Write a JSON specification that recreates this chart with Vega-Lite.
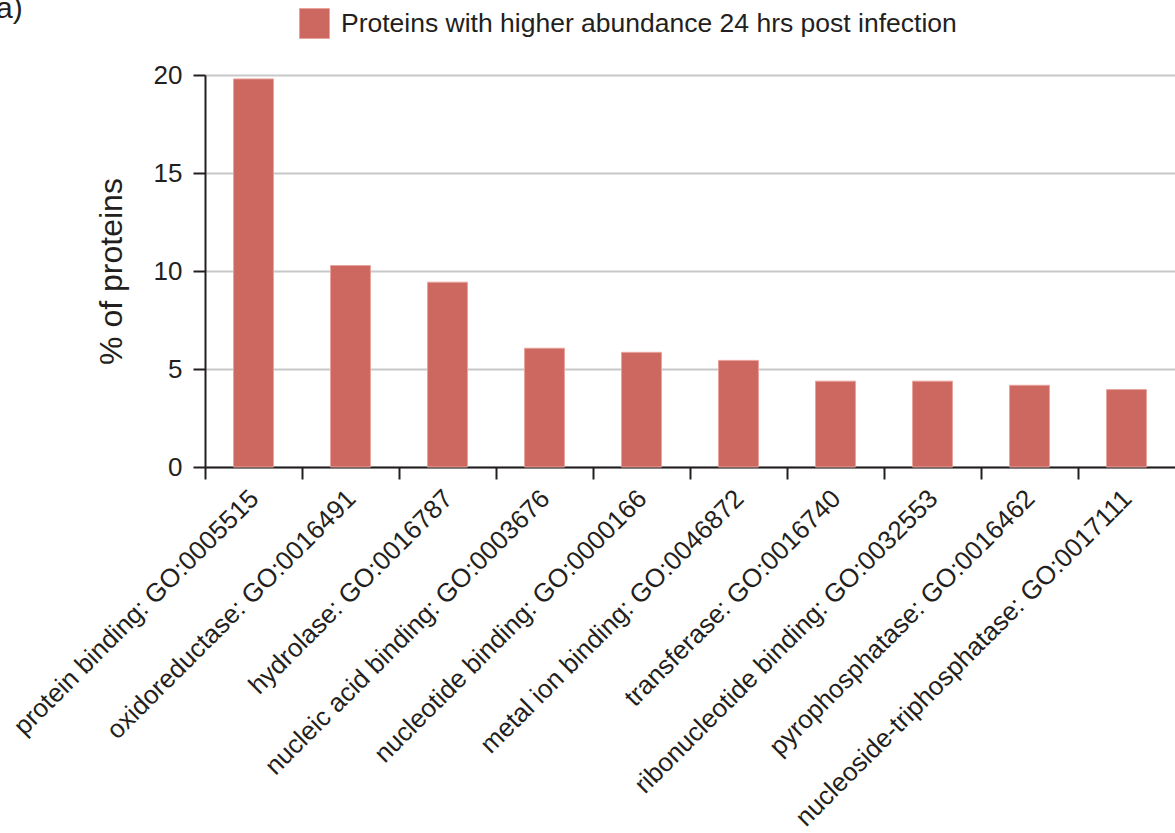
{
  "$schema": "https://vega.github.io/schema/vega-lite/v6.json",
  "autosize": "none",
  "width": 970,
  "height": 392,
  "padding": {"left": 205, "top": 75, "right": 0, "bottom": 366},
  "background": "white",
  "title": {
    "text": "a)",
    "anchor": "start",
    "frame": "group",
    "orient": "top",
    "fontSize": 30,
    "font": "Liberation Sans",
    "fontWeight": "normal",
    "color": "#231f20",
    "dx": -209,
    "dy": 16,
    "offset": 0
  },
  "data": {
    "values": [
      {"term": "protein binding: GO:0005515", "pct": 19.8, "series": "Proteins with higher abundance 24 hrs post infection"},
      {"term": "oxidoreductase: GO:0016491", "pct": 10.28, "series": "Proteins with higher abundance 24 hrs post infection"},
      {"term": "hydrolase: GO:0016787", "pct": 9.43, "series": "Proteins with higher abundance 24 hrs post infection"},
      {"term": "nucleic acid binding: GO:0003676", "pct": 6.06, "series": "Proteins with higher abundance 24 hrs post infection"},
      {"term": "nucleotide binding: GO:0000166", "pct": 5.85, "series": "Proteins with higher abundance 24 hrs post infection"},
      {"term": "metal ion binding: GO:0046872", "pct": 5.44, "series": "Proteins with higher abundance 24 hrs post infection"},
      {"term": "transferase: GO:0016740", "pct": 4.38, "series": "Proteins with higher abundance 24 hrs post infection"},
      {"term": "ribonucleotide binding: GO:0032553", "pct": 4.38, "series": "Proteins with higher abundance 24 hrs post infection"},
      {"term": "pyrophosphatase: GO:0016462", "pct": 4.17, "series": "Proteins with higher abundance 24 hrs post infection"},
      {"term": "nucleoside-triphosphatase: GO:0017111", "pct": 3.95, "series": "Proteins with higher abundance 24 hrs post infection"}
    ]
  },
  "mark": {"type": "bar", "width": {"band": 0.412}, "stroke": "#e8a39d", "strokeWidth": 1},
  "encoding": {
    "x": {
      "field": "term",
      "type": "nominal",
      "sort": null,
      "scale": {"paddingInner": 0, "paddingOuter": 0},
      "axis": {
        "title": null,
        "bandPosition": 0,
        "labelAngle": -45,
        "labelAlign": "right",
        "labelBaseline": "top",
        "labelOffset": -8,
        "labelPadding": 6,
        "labelFontSize": 26,
        "labelFont": "Liberation Sans",
        "labelColor": "#231f20",
        "labelLimit": 0,
        "tickSize": 12,
        "tickWidth": 2,
        "tickColor": "#231f20",
        "domainColor": "#231f20",
        "domainWidth": 2,
        "grid": false
      }
    },
    "y": {
      "field": "pct",
      "type": "quantitative",
      "scale": {"domain": [0, 20], "nice": false},
      "axis": {
        "title": "% of proteins",
        "titleFontSize": 32,
        "titleFont": "Liberation Sans",
        "titleFontWeight": "normal",
        "titleColor": "#231f20",
        "titlePadding": 25,
        "values": [0, 5, 10, 15, 20],
        "labelFontSize": 26,
        "labelFont": "Liberation Sans",
        "labelColor": "#231f20",
        "labelPadding": 11,
        "tickSize": 12,
        "tickWidth": 2,
        "tickColor": "#231f20",
        "domainColor": "#231f20",
        "domainWidth": 2,
        "grid": true,
        "gridColor": "#c8c8c8",
        "gridWidth": 2
      }
    },
    "color": {
      "field": "series",
      "type": "nominal",
      "scale": {"range": ["#cd6861"]},
      "legend": {
        "title": null,
        "orient": "none",
        "legendX": 94,
        "legendY": -67,
        "symbolType": "square",
        "symbolSize": 900,
        "symbolStrokeColor": "#e8a39d",
        "symbolStrokeWidth": 1,
        "labelFontSize": 26.5,
        "labelFont": "Liberation Sans",
        "labelColor": "#231f20",
        "labelOffset": 11,
        "labelLimit": 0
      }
    }
  },
  "config": {"view": {"stroke": null}}
}
